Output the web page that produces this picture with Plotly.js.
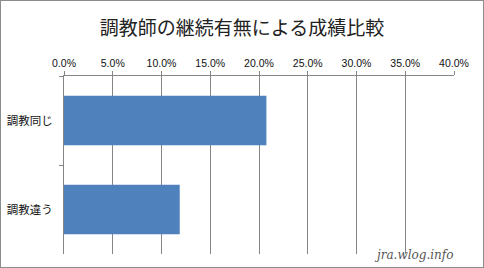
<!DOCTYPE html>
<html>
<head>
<meta charset="utf-8">
<script src="https://cdn.plot.ly/plotly-3.0.1.min.js"></script>
<style>
html,body{margin:0;padding:0;background:#fff;}
#c{width:482px;height:266px;border:1px solid #8c8c8c;}
</style>
</head>
<body>
<div id="c"></div>
<script>
const categories = ["調教同じ", "調教違う"];
const values = [0.2076, 0.1187];
const tickValues = [0, 0.05, 0.10, 0.15, 0.20, 0.25, 0.30, 0.35, 0.40];

const trace = {
  type: "bar",
  orientation: "h",
  y: categories,
  x: values,
  width: 0.556,
  marker: {color: "#4F81BD"},
  hoverinfo: "none"
};

const layout = {
  width: 482,
  height: 266,
  margin: {l: 63, r: 29, t: 75, b: 13, pad: 0},
  paper_bgcolor: "#fff",
  plot_bgcolor: "#fff",
  showlegend: false,
  title: {
    text: "調教師の継続有無による成績比較",
    font: {family: "Noto Sans CJK JP", size: 19, color: "#222"},
    x: 0.5, xanchor: "center",
    xref: "container", yref: "container",
    y: 0.898, yanchor: "middle"
  },
  xaxis: {
    side: "top",
    range: [0, 0.4],
    tickvals: tickValues,
    tickformat: ".1%",
    showline: true,
    linecolor: "#868686",
    linewidth: 1,
    showgrid: true,
    gridcolor: "#868686",
    gridwidth: 1,
    zeroline: false,
    ticks: "outside",
    ticklen: 4,
    tickcolor: "#868686",
    tickfont: {family: "Liberation Sans, Arial", size: 10.5, color: "#111"},
    fixedrange: true
  },
  yaxis: {
    type: "category",
    autorange: "reversed",
    showline: true,
    linecolor: "#868686",
    linewidth: 1,
    showgrid: false,
    zeroline: false,
    ticks: "outside",
    tickson: "boundaries",
    ticklen: 4,
    ticklabelstandoff: 8,
    tickcolor: "#868686",
    tickfont: {family: "Noto Sans CJK JP", size: 11.5, color: "#111"},
    fixedrange: true
  },
  annotations: [{
    text: "jra.wlog.info",
    xref: "paper", yref: "paper",
    x: 0.897, y: -0.006,
    xanchor: "center", yanchor: "middle",
    showarrow: false,
    font: {family: "DejaVu Serif", size: 12, color: "#555", style: "italic"}
  }]
};

Plotly.newPlot("c", [trace], layout, {staticPlot: true, displayModeBar: false});
</script>
</body>
</html>
